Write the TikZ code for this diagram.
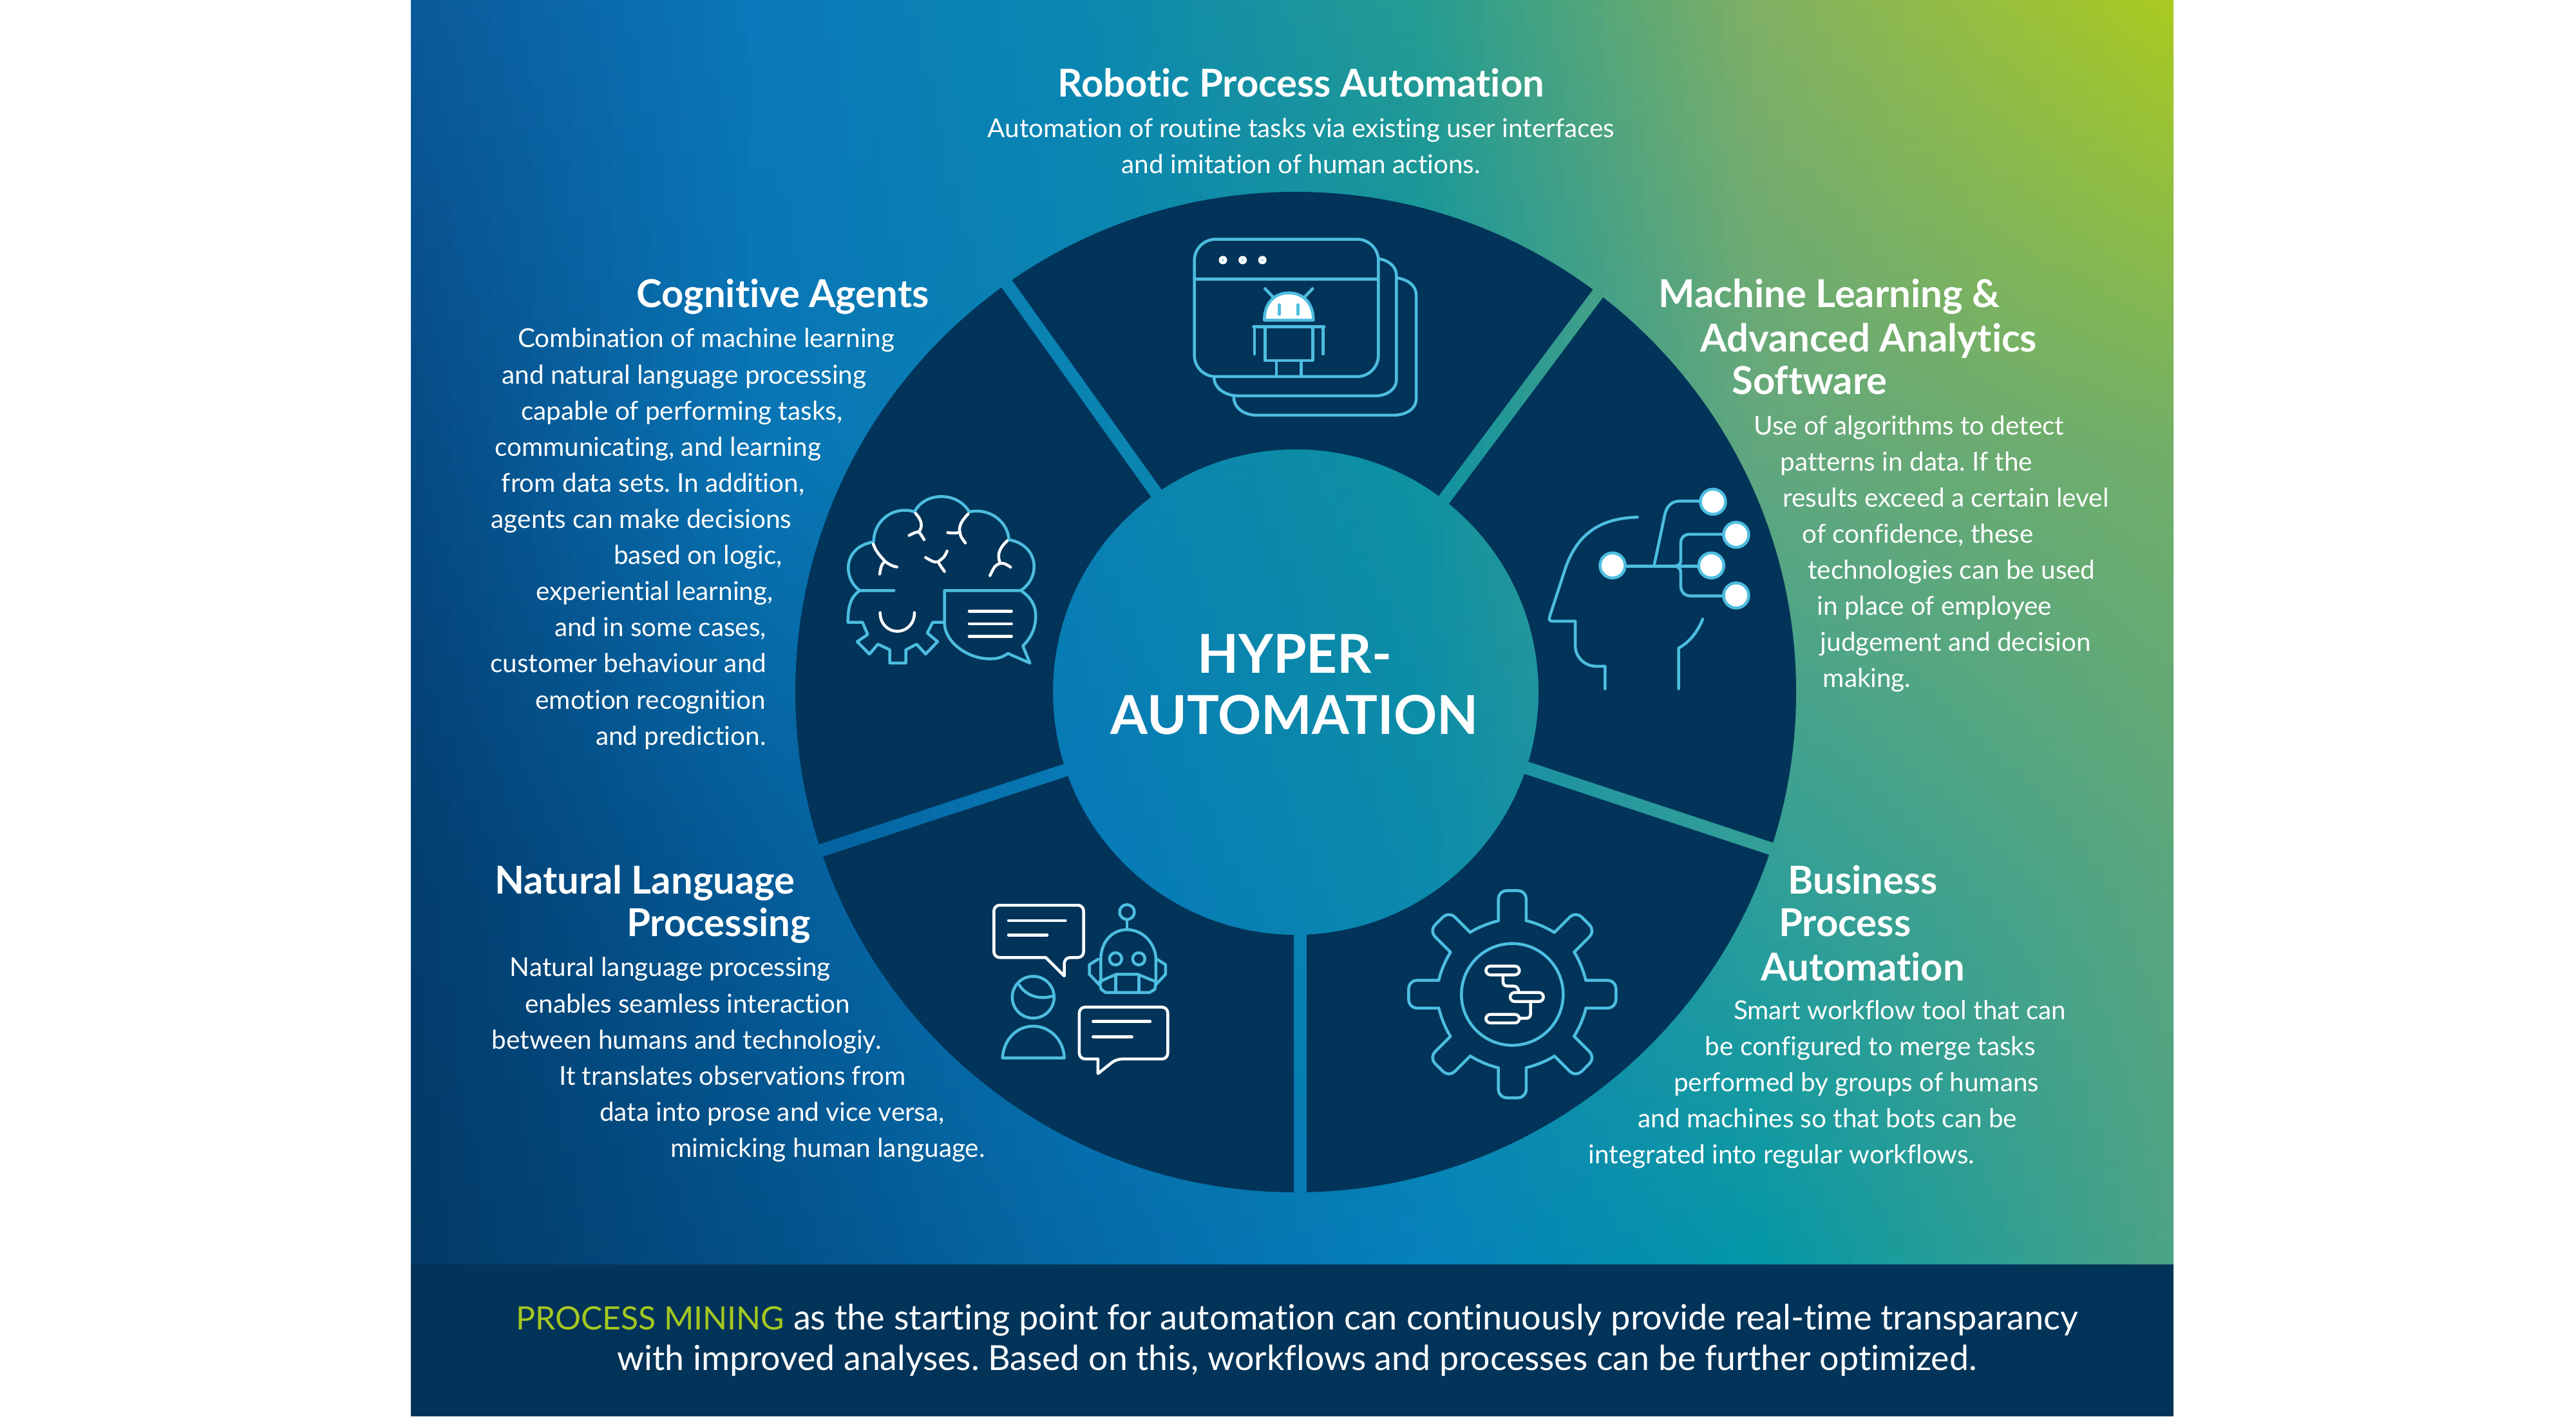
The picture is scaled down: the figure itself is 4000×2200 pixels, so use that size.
\documentclass[tikz,border=0pt]{standalone}
\usepackage{fontspec}
\setmainfont{Lato}[Ligatures=NoCommon]
\frenchspacing
\usetikzlibrary{positioning,calc}
\definecolor{navyfield}{HTML}{023459}
\definecolor{iconblue}{HTML}{4DBDE0}
\definecolor{limetext}{HTML}{A5C81F}
% gradient grid: columns A..F, rows 0..3
\definecolor{gA0}{HTML}{0B5A9A}\definecolor{gB0}{HTML}{0A78BA}\definecolor{gC0}{HTML}{0A88B0}\definecolor{gD0}{HTML}{259C92}\definecolor{gE0}{HTML}{80B064}\definecolor{gF0}{HTML}{ABCB1E}
\definecolor{gA1}{HTML}{064A84}\definecolor{gB1}{HTML}{0874B4}\definecolor{gC1}{HTML}{0A82B2}\definecolor{gD1}{HTML}{0E92A0}\definecolor{gE1}{HTML}{62A77E}\definecolor{gF1}{HTML}{72AF68}
\definecolor{gA2}{HTML}{033D6E}\definecolor{gB2}{HTML}{045A96}\definecolor{gC2}{HTML}{0678B8}\definecolor{gD2}{HTML}{0B8AAC}\definecolor{gE2}{HTML}{2C9E9A}\definecolor{gF2}{HTML}{5AA67E}
\definecolor{gA3}{HTML}{033A66}\definecolor{gB3}{HTML}{034F86}\definecolor{gC3}{HTML}{0569A6}\definecolor{gD3}{HTML}{0580BC}\definecolor{gE3}{HTML}{0096A8}\definecolor{gF3}{HTML}{4DA384}
\tikzset{
  icon/.style={draw=iconblue, line width=0.45mm, line cap=round, line join=round},
  iconw/.style={draw=white, line width=0.45mm, line cap=round, line join=round},
  dotnode/.style={circle, draw=iconblue, fill=white, line width=0.45mm, minimum size=3.9mm, inner sep=0pt},
  title/.style={text=white, font=\fontsize{17}{20}\selectfont\bfseries, anchor=mid, inner sep=0pt, yshift=-1.45mm},
  bodytxt/.style={text=white, font=\fontsize{11.5}{14}\selectfont, anchor=mid, inner sep=0pt, yshift=-0.55mm},
  hubtxt/.style={text=white, font=\fontsize{23.7}{30}\selectfont\bfseries, anchor=mid, inner sep=0pt, yshift=-2.4mm},
  foottxt/.style={text=white, font=\fontsize{15.25}{20}\selectfont, anchor=mid, inner sep=0pt, yshift=-1.3mm},
  shrunk/.style={x=0.2551mm, y=-0.2551mm},
  crop/.style={x=0.03333mm, y=-0.03333mm}
}
\begin{document}
\begin{tikzpicture}[x=0.1mm, y=-0.1mm]
    \useasboundingbox (0,0) rectangle (4000,2200);
    \fill[white] (0,0) rectangle (4000,2200);
    % gradient field
    \begin{scope}
    \clip (638,0) rectangle (3375,1970);
    \foreach \ca/\cb/\xa/\xb in {A/B/638/1160,B/C/1160/1680,C/D/1680/2200,D/E/2200/2720,E/F/2720/3375}{
      \foreach \t in {0,4,...,96}{
        \foreach \ra/\rb/\ya/\yb in {0/1/0/701,1/2/699/1401,2/3/1399/2000}{
          \shade[top color=g\cb\ra!\t!g\ca\ra, bottom color=g\cb\rb!\t!g\ca\rb] ({\xa+(\xb-\xa)/100*\t},\ya) rectangle ({\xa+(\xb-\xa)/100*(\t+5)},\yb);
        }
      }
    }
    \end{scope}
    % spokes, inner and outer ends
    \coordinate (hubc) at (2012,1075);
    \coordinate (tli) at (1842.5,832);  \coordinate (tlo) at (1320,100);
    \coordinate (tri) at (2194.5,840);  \coordinate (tro) at (2731.5,120.7);
    \coordinate (rgi) at (2293,1167);   \coordinate (rgo) at (3148,1450);
    \coordinate (boi) at (2019,1380);   \coordinate (boo) at (2019,2300);
    \coordinate (lfi) at (1728,1172);   \coordinate (lfo) at (877,1452);
    % wedges
    \begin{scope}[even odd rule]
    \clip (hubc) circle[radius=77.7mm] (hubc) circle[radius=37.7mm];
    \foreach \ai/\ao/\bi/\bo in {tli/tlo/tri/tro,tri/tro/rgi/rgo,rgi/rgo/boi/boo,boi/boo/lfi/lfo,lfi/lfo/tli/tlo}{
      \fill[navyfield] ($(\ai)!1mm!-90:(\ao)$) -- ($(\ao)!1mm!90:(\ai)$) -- ($(\bo)!1mm!-90:(\bi)$) -- ($(\bi)!1mm!90:(\bo)$) -- cycle;
    }
    \end{scope}
    % footer
    \fill[navyfield] (638,1964) rectangle (3375,2200);
    % robot window icon
    \begin{scope}[shift={(1750,300)}, x=0.05102mm, y=-0.03333mm]
    \draw[icon] (822,395) .. controls (860,405) and (880,435) .. (880,475) -- (880,960) .. controls (880,1005) and (850,1035) .. (810,1035) -- (395,1035) .. controls (355,1035) and (325,1000) .. (325,950);
    \draw[icon] (765,305) .. controls (800,315) and (820,345) .. (820,385) -- (820,870) .. controls (820,915) and (790,945) .. (755,945) -- (340,945) .. controls (300,945) and (265,910) .. (265,860);
    \draw[icon, rounded corners=3.3mm] (205,215) rectangle (765,855);
    \draw[icon] (205,400) -- (765,400);
    \foreach \xdot in {292,352,412}{
      \fill[white] (\xdot,312) circle[radius=0.65mm];
      \fill[iconblue] (\xdot,312) circle[radius=0.15mm];
    }
    \draw[icon, fill=white] (418,592) .. controls (418,510) and (450,465) .. (492,465) .. controls (535,465) and (567,510) .. (567,592) -- cycle;
    \draw[icon] (420,445) -- (445,485) (565,445) -- (540,485);
    \draw[icon] (463,520) -- (463,565) (520,520) -- (520,565);
    \draw[icon] (385,622) -- (600,622) (388,622) -- (388,750) (597,622) -- (597,750);
    \draw[icon] (420,622) rectangle (565,780);
    \draw[icon] (455,780) -- (455,850) (530,780) -- (530,850);
    \end{scope}
    % brain icon
    \begin{scope}[shift={(1250,720)}, crop]
    \draw[icon] (255,592) .. controls (180,540) and (170,390) .. (320,365) .. controls (320,260) and (420,195) .. (510,225) .. controls (560,130) and (710,130) .. (765,225) .. controls (860,205) and (945,270) .. (950,355) .. controls (1090,380) and (1100,530) .. (1005,592);
    \draw[icon] (415,592) -- (255,592) .. controls (215,620) and (200,660) .. (200,740) -- (268,740) -- (292,797) -- (243,830) -- (300,888) -- (340,842) -- (395,868) -- (395,930) -- (470,930) -- (470,868) -- (520,842) -- (562,888) -- (618,830) -- (570,790) -- (595,740) -- (650,740);
    \draw[icon] (650,592) -- (650,740) .. controls (650,840) and (770,915) .. (870,910) .. controls (900,910) and (925,900) .. (945,885) -- (1048,930) -- (1015,850) .. controls (1055,810) and (1075,765) .. (1075,710) .. controls (1075,660) and (1050,620) .. (1005,592) -- cycle;
    \draw[iconw] (350,695) .. controls (350,750) and (390,782) .. (430,782) .. controls (470,782) and (510,750) .. (510,695);
    \foreach \ybar in {688,747,806}{
      \draw[iconw] (765,\ybar) -- (962,\ybar);
    }
    \draw[iconw] (318,375) .. controls (330,410) and (350,430) .. (372,455) .. controls (390,470) and (410,480) .. (428,482) (372,455) .. controls (355,475) .. (348,515);
    \draw[iconw] (515,232) .. controls (545,265) and (550,295) .. (530,318) .. controls (540,330) .. (555,355) (530,318) .. controls (515,320) .. (485,335);
    \draw[iconw] (760,235) .. controls (725,270) and (715,300) .. (722,320) .. controls (725,340) .. (747,370) (722,320) .. controls (700,325) .. (665,322);
    \draw[iconw] (942,360) .. controls (900,400) and (895,430) .. (910,465) .. controls (930,465) .. (958,483) (910,465) .. controls (885,475) .. (862,522);
    \draw[iconw] (662,408) .. controls (650,435) .. (620,458) .. controls (600,460) .. (562,438) (620,458) .. controls (630,475) .. (650,503);
    \end{scope}
    % head icon
    \begin{scope}[shift={(2350,720)}, crop]
    \draw[icon] (578,250) .. controls (400,255) and (290,330) .. (235,510) -- (170,710) .. controls (165,730) .. (180,735) -- (288,735) -- (288,850) .. controls (290,910) and (340,945) .. (385,945) -- (427,945) -- (427,1050);
    \draw[icon] (770,1050) -- (770,860) .. controls (825,830) and (860,780) .. (882,725);
    \draw[icon] (525,478) -- (860,478);
    \draw[icon] (655,478) -- (705,240) .. controls (715,195) and (740,175) .. (775,175) -- (875,175);
    \draw[icon] (755,478) .. controls (780,470) .. (780,430) -- (780,370) .. controls (780,345) and (795,330) .. (820,330) -- (980,330);
    \draw[icon] (755,478) .. controls (780,490) .. (780,530) -- (780,570) .. controls (780,600) and (800,617) .. (825,617) -- (980,617);
    \node[dotnode] (seedA) at (462,475) {};
    \node[dotnode] (leafA) at (930,178) {};
    \node[dotnode] (leafB) at (1038,332) {};
    \node[dotnode] (leafC) at (922,475) {};
    \node[dotnode] (leafD) at (1038,615) {};
    \end{scope}
    % gear icon
    \begin{scope}[shift={(2130,1350)}, crop]
    \foreach \a in {0,45,...,315}{
      \begin{scope}[shift={(655,583)}, rotate=\a]
      \draw[icon, rounded corners=1.3mm] (-65,-343) -- (-65,-483) -- (65,-483) -- (65,-343);
      \draw[icon] (65,-343) .. controls (110,-332) and (155,-313) .. (196,-288);
      \end{scope}
    }
    \draw[icon] (655,584) circle[radius=7.9mm];
    \draw[iconw, rounded corners=0.7mm] (532,452) rectangle (688,493);
    \draw[iconw, rounded corners=0.7mm] (645,575) rectangle (800,617);
    \draw[iconw, rounded corners=0.7mm] (532,677) rectangle (688,717);
    \draw[iconw] (612,493) -- (612,525) .. controls (612,540) and (620,545) .. (635,545) -- (660,545) .. controls (675,545) and (685,555) .. (685,575);
    \draw[iconw] (740,617) -- (740,675) .. controls (740,690) and (730,695) .. (720,695) -- (688,695);
    \end{scope}
    % chat icon
    \begin{scope}[shift={(1500,1370)}, crop]
    \draw[iconw, rounded corners=0.9mm] (130,108) -- (548,108) -- (548,352) -- (458,352) [sharp corners] -- (458,438) -- (372,352) [rounded corners=0.9mm] -- (130,352) -- cycle;
    \draw[iconw] (198,180) -- (463,180) (198,247) -- (378,247);
    \draw[iconw, rounded corners=0.9mm] (528,583) -- (940,583) -- (940,825) -- (700,825) [sharp corners] -- (615,893) -- (615,825) [rounded corners=0.9mm] -- (528,825) -- cycle;
    \draw[iconw] (592,650) -- (858,650) (592,722) -- (773,722);
    \draw[icon] (313,537) circle[radius=3.25mm];
    \draw[icon] (248,480) .. controls (280,530) and (340,550) .. (402,532);
    \draw[icon] (170,820) .. controls (175,735) and (235,672) .. (313,672) .. controls (390,672) and (455,735) .. (458,820) -- cycle;
    \draw[icon] (750,140) circle[radius=1.15mm];
    \draw[icon] (750,175) -- (750,220);
    \draw[icon] (628,470) -- (628,355) .. controls (630,280) and (680,222) .. (750,222) .. controls (820,222) and (880,280) .. (885,355) -- (885,470);
    \draw[icon] (697,358) circle[radius=0.95mm] (805,358) circle[radius=0.95mm];
    \draw[icon] (620,465) -- (700,430) -- (800,430) -- (885,465) -- (880,500) -- (855,515) -- (650,515) -- (630,500) -- cycle;
    \draw[icon] (697,435) -- (697,515) (805,435) -- (805,515);
    \draw[icon] (615,360) -- (575,385) -- (575,430) -- (620,478);
    \draw[icon] (890,360) -- (930,385) -- (930,430) -- (885,478);
    \end{scope}
    % texts, positions
    \begin{scope}[shrunk]
    \node[hubtxt] (hubA) at (788,397) {HYPER-};
    \node[hubtxt] (hubB) at (788,434) {AUTOMATION};
    \node[title] (rpaT) at (792,50) {Robotic Process Automation};
    \node[bodytxt] (rpaA) at (792,78) {Automation of routine tasks via existing user interfaces};
    \node[bodytxt] (rpaB) at (792,100) {and imitation of human actions.};
    \node[title] (cogT) at (476.5,178) {Cognitive Agents};
    \foreach \xc/\yc/\txt in {430/206/{Combination of machine learning},416.5/228/{and natural language processing},415/250/{capable of performing tasks,},400.5/272/{communicating, and learning},397.5/294/{from data sets. In addition,},390.5/316/{agents can make decisions},425/338/{based on logic,},398.5/360/{experiential learning,},402/382/{and in some cases,},382.5/404/{customer behaviour and},396/426/{emotion recognition},414.5/448/{and prediction.}}{
      \node[bodytxt] (cog\yc) at (\xc,\yc) {\txt};
    }
    \node[title] (mlTA) at (1113.5,178) {Machine Learning \&};
    \node[title] (mlTB) at (1137.5,205) {Advanced Analytics};
    \node[title] (mlTC) at (1101.5,231) {Software};
    \foreach \xc/\yc/\txt in {1162/259/{Use of algorithms to detect},1160.5/281/{patterns in data. If the},1184.5/303/{results exceed a certain level},1167.5/325/{of confidence, these},1188/347/{technologies can be used},1177.5/369/{in place of employee},1190.5/391/{judgement and decision},1136.5/413/{making.}}{
      \node[bodytxt] (ml\yc) at (\xc,\yc) {\txt};
    }
    \node[title] (bpaTA) at (1134,535) {Business};
    \node[title] (bpaTB) at (1123,561) {Process};
    \node[title] (bpaTC) at (1134,588) {Automation};
    \foreach \xc/\yc/\txt in {1156.5/615/{Smart workflow tool that can},1138.5/637/{be configured to merge tasks},1130/659/{performed by groups of humans},1112.5/681/{and machines so that bots can be},1084.5/703/{integrated into regular workflows.}}{
      \node[bodytxt] (bpa\yc) at (\xc,\yc) {\txt};
    }
    \node[title] (nlpTA) at (392.5,535) {Natural Language};
    \node[title] (nlpTB) at (437.5,561) {Processing};
    \foreach \xc/\yc/\txt in {408/589/{Natural language processing},418.5/611/{enables seamless interaction},418/633/{between humans and technologiy.},446/655/{It translates observations from},470/677/{data into prose and vice versa,},504/699/{mimicking human language.}}{
      \node[bodytxt] (nlp\yc) at (\xc,\yc) {\txt};
    }
    \node[foottxt] (footA) at (789.5,801) {\fontsize{15.4}{20}\selectfont\textcolor{limetext}{\fontsize{14.2}{20}\selectfont PROCESS MINING} as the starting point for automation can continuously provide real-time transparancy};
    \node[foottxt] (footB) at (789.5,826) {with improved analyses. Based on this, workflows and processes can be further optimized.};
    \end{scope}
\end{tikzpicture}
\end{document}
